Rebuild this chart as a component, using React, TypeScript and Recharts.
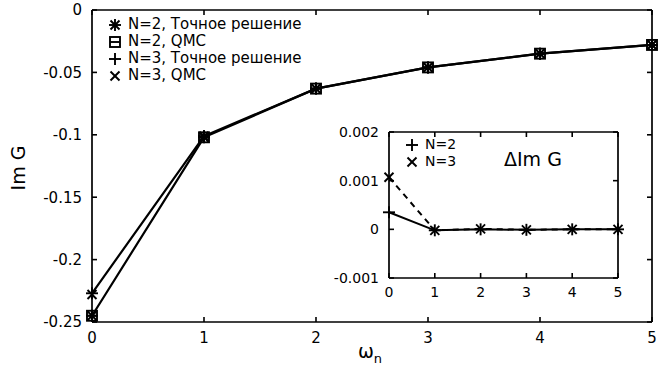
import { LineChart, Line, XAxis, YAxis } from "recharts";

// Matsubara frequency index
const omega = [0, 1, 2, 3, 4, 5];
const imTicks = [-0.25, -0.2, -0.15, -0.1, -0.05, 0];

// Im G, main panel
const n2Exact = [-0.245, -0.102, -0.063, -0.046, -0.035, -0.028];
const n2Qmc = [-0.245, -0.102, -0.063, -0.046, -0.035, -0.028];
const n3Exact = [-0.227, -0.101, -0.063, -0.046, -0.035, -0.028];
const n3Qmc = [-0.228, -0.101, -0.063, -0.046, -0.035, -0.028];

// inset: difference QMC - exact
const deltaTicks = [-0.001, 0, 0.001, 0.002];
const deltaN2 = [0.00035, -0.00002, 0, -0.00001, 0, 0];
const deltaN3 = [0.00107, -0.00002, 0.00001, -0.00001, 0, 0];

const mainData = omega.map((w, i) => ({
    w,
    n2Exact: n2Exact[i],
    n2Qmc: n2Qmc[i],
    n3Exact: n3Exact[i],
    n3Qmc: n3Qmc[i],
}));
const insetData = omega.map((w, i) => ({ w, d2: deltaN2[i], d3: deltaN3[i] }));

const FONT = "DejaVu Sans";

type Kind = "star" | "box" | "plus" | "cross";
type Side = "bottom" | "top" | "left" | "right";

// inward tick mark (+ label on bottom/left); x/y from recharts are the label anchor
const inTick = (side: Side, len: number, gap: number, fontSize = 0) => (props: any) => {
    const x = Number(props.x);
    const y = Number(props.y);
    const v = String(props.payload.value);
    let line;
    let label = null;
    if (side === "bottom") {
        line = <line x1={x} y1={y - gap} x2={x} y2={y - gap - len} stroke="#000" strokeWidth={1.6} />;
        label = <text x={x} y={y} dy="0.71em" textAnchor="middle" fill="#000" fontFamily={FONT} fontSize={fontSize}>{v}</text>;
    } else if (side === "left") {
        line = <line x1={x + gap} y1={y} x2={x + gap + len} y2={y} stroke="#000" strokeWidth={1.6} />;
        label = <text x={x} y={y} dy="0.355em" textAnchor="end" fill="#000" fontFamily={FONT} fontSize={fontSize}>{v}</text>;
    } else if (side === "top") {
        line = <line x1={x} y1={y + gap} x2={x} y2={y + gap + len} stroke="#000" strokeWidth={1.6} />;
    } else {
        line = <line x1={x - gap} y1={y} x2={x - gap - len} y2={y} stroke="#000" strokeWidth={1.6} />;
    }
    return (
        <g key={props.index}>
            {line}
            {label}
        </g>
    );
};

function Mark({ kind, cx, cy, s = 6 }: { kind: Kind; cx: number; cy: number; s?: number }) {
    const plus = (
        <>
            <line x1={cx - s} y1={cy} x2={cx + s} y2={cy} />
            <line x1={cx} y1={cy - s} x2={cx} y2={cy + s} />
        </>
    );
    const d = s * 0.75;
    const cross = (
        <>
            <line x1={cx - d} y1={cy - d} x2={cx + d} y2={cy + d} />
            <line x1={cx - d} y1={cy + d} x2={cx + d} y2={cy - d} />
        </>
    );
    return (
        <g stroke="#000" strokeWidth={1.9} fill="none">
            {kind === "plus" && plus}
            {kind === "cross" && cross}
            {kind === "star" && (
                <>
                    {plus}
                    {cross}
                </>
            )}
            {kind === "box" && (
                <>
                    <rect x={cx - s + 1} y={cy - s + 1} width={2 * s - 2} height={2 * s - 2} />
                    <line x1={cx - s + 1} y1={cy} x2={cx + s - 1} y2={cy} />
                </>
            )}
        </g>
    );
}

const dot = (kind: Kind, s = 6) => (props: any) => {
    const { cx, cy, index } = props;
    if (cx == null || cy == null) return <g key={index} />;
    return <Mark key={index} kind={kind} cx={cx} cy={cy} s={s} />;
};

const mainRows: { label: string; kind: Kind }[] = [
    { label: "N=2, Точное решение", kind: "star" },
    { label: "N=2, QMC", kind: "box" },
    { label: "N=3, Точное решение", kind: "plus" },
    { label: "N=3, QMC", kind: "cross" },
];
const insetRows: { label: string; kind: Kind }[] = [
    { label: "N=2", kind: "plus" },
    { label: "N=3", kind: "cross" },
];

function LegendRows({ rows, fontSize }: { rows: { label: string; kind: Kind }[]; fontSize: number }) {
    return (
        <div style={{ fontFamily: FONT, fontSize, lineHeight: "17px", color: "#000" }}>
            {rows.map((r) => (
                <div key={r.label} style={{ display: "flex", alignItems: "center", height: 17 }}>
                    <svg width={16} height={16}>
                        <Mark kind={r.kind} cx={8} cy={8} s={6} />
                    </svg>
                    <span style={{ marginLeft: 5 }}>{r.label}</span>
                </div>
            ))}
        </div>
    );
}

const OmegaLabel = () => (
    <text x={370} y={358} textAnchor="middle" fontFamily={FONT} fontSize={19} fill="#000">
        ω<tspan fontSize={13} dy={5}>n</tspan>
    </text>
);

const ImLabel = () => (
    <text x={25} y={168} textAnchor="middle" fontFamily={FONT} fontSize={19} fill="#000" transform="rotate(-90 25 168)">
        Im G
    </text>
);

export default function App() {
    return (
        <div style={{ position: "absolute", left: 0, top: 0, width: 660, height: 378, background: "#fff" }}>
            <LineChart width={660} height={378} data={mainData} margin={{ top: 0, right: 0, bottom: 0, left: 0 }}>
                <XAxis xAxisId="b" dataKey="w" type="number" domain={[0, 5]} ticks={omega} height={56}
                    stroke="#000" strokeWidth={1.7} tickLine={false} tickSize={0} tickMargin={10}
                    tick={inTick("bottom", 5, 10, 15)} label={<OmegaLabel />} />
                <XAxis xAxisId="t" orientation="top" dataKey="w" type="number" domain={[0, 5]} ticks={omega} height={10}
                    stroke="#000" strokeWidth={1.7} tickLine={false} tickSize={0} tickMargin={0} tick={inTick("top", 5, 0)} />
                <YAxis yAxisId="l" type="number" domain={[-0.25, 0]} ticks={imTicks} width={92}
                    stroke="#000" strokeWidth={1.7} tickLine={false} tickSize={0} tickMargin={10}
                    tick={inTick("left", 5, 10, 15)} label={<ImLabel />} />
                <YAxis yAxisId="r" orientation="right" type="number" domain={[-0.25, 0]} ticks={imTicks} width={8}
                    stroke="#000" strokeWidth={1.7} tickLine={false} tickSize={0} tickMargin={0} tick={inTick("right", 5, 0)} />

                <Line xAxisId="t" yAxisId="r" dataKey="n2Exact" stroke="none" dot={false} isAnimationActive={false} />
                <Line xAxisId="b" yAxisId="l" dataKey="n2Exact" stroke="#000" strokeWidth={2.2} dot={dot("star")} isAnimationActive={false} />
                <Line xAxisId="b" yAxisId="l" dataKey="n3Exact" stroke="#000" strokeWidth={2.2} dot={dot("plus")} isAnimationActive={false} />
                <Line xAxisId="b" yAxisId="l" dataKey="n2Qmc" stroke="none" strokeWidth={0} dot={dot("box")} isAnimationActive={false} />
                <Line xAxisId="b" yAxisId="l" dataKey="n3Qmc" stroke="none" strokeWidth={0} dot={dot("cross")} isAnimationActive={false} />
            </LineChart>

            <div style={{ position: "absolute", left: 107, top: 16 }}>
                <LegendRows rows={mainRows} fontSize={15} />
            </div>

            <div style={{ position: "absolute", left: 330, top: 112 }}>
                <LineChart width={300} height={194} data={insetData} margin={{ top: 0, right: 0, bottom: 0, left: 0 }}>
                    <XAxis xAxisId="b" dataKey="w" type="number" domain={[0, 5]} ticks={omega} height={28}
                        stroke="#000" strokeWidth={1.7} tickLine={false} tickSize={0} tickMargin={9}
                        tick={inTick("bottom", 5, 9, 14)} />
                    <XAxis xAxisId="t" orientation="top" dataKey="w" type="number" domain={[0, 5]} ticks={omega} height={20}
                        stroke="#000" strokeWidth={1.7} tickLine={false} tickSize={0} tickMargin={0} tick={inTick("top", 5, 0)} />
                    <YAxis yAxisId="l" type="number" domain={[-0.001, 0.002]} ticks={deltaTicks} width={59}
                        stroke="#000" strokeWidth={1.7} tickLine={false} tickSize={0} tickMargin={10}
                        tick={inTick("left", 5, 10, 14)} />
                    <YAxis yAxisId="r" orientation="right" type="number" domain={[-0.001, 0.002]} ticks={deltaTicks} width={12}
                        stroke="#000" strokeWidth={1.7} tickLine={false} tickSize={0} tickMargin={0} tick={inTick("right", 5, 0)} />

                    <Line xAxisId="t" yAxisId="r" dataKey="d2" stroke="none" dot={false} isAnimationActive={false} />
                    <Line xAxisId="b" yAxisId="l" dataKey="d2" stroke="#000" strokeWidth={2} dot={dot("plus", 6)} isAnimationActive={false} />
                    <Line xAxisId="b" yAxisId="l" dataKey="d3" stroke="#000" strokeWidth={2} strokeDasharray="6 5" dot={dot("cross", 6)} isAnimationActive={false} />
                </LineChart>
                <div style={{ position: "absolute", left: 74, top: 24 }}>
                    <LegendRows rows={insetRows} fontSize={14} />
                </div>
                <div style={{ position: "absolute", left: 174, top: 36, fontFamily: FONT, fontSize: 19, color: "#000" }}>ΔIm G</div>
            </div>
        </div>
    );
}
